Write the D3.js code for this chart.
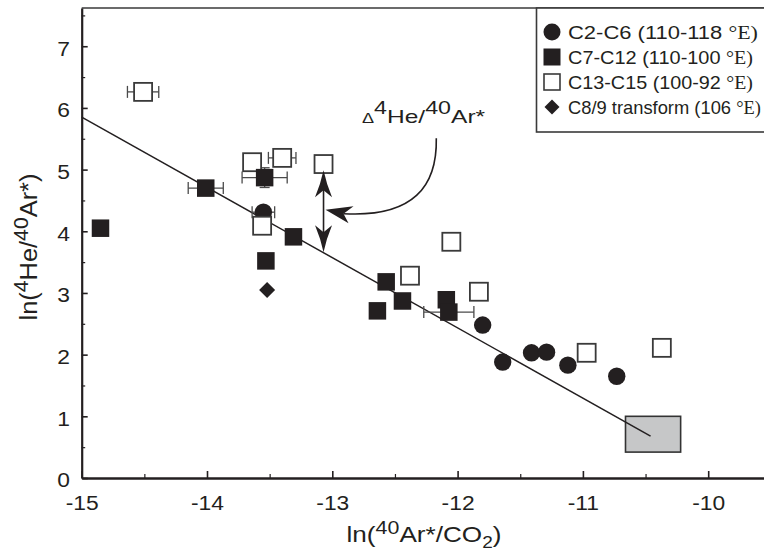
<!DOCTYPE html>
<html>
<head>
<meta charset="utf-8">
<script src="https://cdn.jsdelivr.net/npm/d3@7"></script>
<style>
  body { margin: 0; background: #fff; }
  svg { display: block; }
  text { font-family: "Liberation Sans", Arial, Helvetica, sans-serif; fill: #231f20; }
</style>
</head>
<body>
<svg id="chart" width="764" height="552"></svg>
<script>
// ---- data: ln(40Ar*/CO2) vs ln(4He/40Ar*) ----
// C2-C6 (110-118 °E) — filled circles
const c2c6X    = [-13.55, -11.80, -11.64, -11.41, -11.29, -11.12, -10.73];
const c2c6Y    = [4.31, 2.48, 1.88, 2.03, 2.04, 1.83, 1.65];
const c2c6XErr = [0.09, 0, 0, 0, 0, 0, 0];

// C7-C12 (110-100 °E) — filled squares
const c7c12X    = [-14.85, -14.01, -13.54, -13.31, -13.53, -12.57, -12.64, -12.44, -12.09, -12.07];
const c7c12Y    = [4.05, 4.70, 4.87, 3.91, 3.52, 3.18, 2.71, 2.87, 2.89, 2.69];
const c7c12XErr = [0, 0.14, 0.18, 0, 0, 0, 0, 0, 0, 0.20];
const c7c12YErr = [0, 0, 0.16, 0, 0, 0, 0, 0, 0, 0];

// C13-C15 (100-92 °E) — open squares
const c13c15X    = [-14.51, -13.64, -13.40, -13.56, -13.07, -12.38, -12.05, -11.83, -10.97, -10.37];
const c13c15Y    = [6.26, 5.12, 5.19, 4.09, 5.09, 3.28, 3.83, 3.02, 2.03, 2.11];
const c13c15XErr = [0.125, 0, 0.11, 0, 0, 0, 0, 0, 0, 0];

// C8/9 transform (106 °E) — diamond
const c89X = [-13.52];
const c89Y = [3.05];

// trend line and end-member field
const trendX = [-15, -10.46];
const trendY = [5.85, 0.68];
const fieldX = [-10.66, -10.22];
const fieldY = [0.42, 1.00];

// Δ annotation: double arrow between a sample and the trend line
const deltaArrowX = -13.07;
const deltaArrowY = [4.99, 3.66];

// axes
const xTicks = [-15, -14, -13, -12, -11, -10];
const xTickLabels = ["-15", "-14", "-13", "-12", "-11", "-10"];
const xMinor = [-14.5, -13.5, -12.5, -11.5, -10.5, -9.5];
const yTicks = [0, 1, 2, 3, 4, 5, 6, 7];
const yTickLabels = ["0", "1", "2", "3", "4", "5", "6", "7"];
const yMinor = [0.5, 1.5, 2.5, 3.5, 4.5, 5.5, 6.5, 7.5];

const legendItems = [
  { shape: "circle",  label: "C2-C6 (110-118 ",      width: 190 },
  { shape: "square",  label: "C7-C12 (110-100 ",     width: 185 },
  { shape: "open",    label: "C13-C15 (100-92 ",     width: 185 },
  { shape: "diamond", label: "C8/9 transform (106 ", width: 193 }
];

// ---- drawing ----
const INK = "#231f20";
const svg = d3.select("#chart");

const x = d3.scaleLinear().domain([-15, -9.5]).range([81.7, 81.7 + 125.3 * 5.5]);
const y = d3.scaleLinear().domain([0, 7.62]).range([478, 8]);

// rich text helper: parts = [{t, size, shift, family}]
function richText(parent, px, py, anchor, parts, opts = {}) {
  const g = parent.append("g").attr("transform", `translate(${px},${py})` + (opts.rotate ? ` rotate(${opts.rotate})` : ""));
  const t = g.append("text").attr("text-anchor", anchor);
  let off = 0;
  parts.forEach(p => {
    const s = p.shift || 0;
    const ts = t.append("tspan").attr("dy", s - off).attr("font-size", p.size).text(p.t);
    if (p.family) ts.style("font-family", p.family);
    off = s;
  });
  let sx = opts.sx || 1;
  if (opts.width) sx = opts.width / t.node().getBBox().width;
  t.attr("transform", `scale(${sx},1)`);
  return g;
}

// diamond path with half-diagonal h
const diamondPath = h => `M0,${-h} L${h},0 L0,${h} L${-h},0 Z`;

// frame top edge
svg.append("line")
  .attr("x1", x(-15)).attr("x2", 770).attr("y1", y(7.62)).attr("y2", y(7.62))
  .attr("stroke", "#3a3a3a").attr("stroke-width", 1.5);

// axes
const xAxis = d3.axisBottom(x).tickValues(xTicks).tickSizeInner(-7).tickSizeOuter(0)
  .tickPadding(0).tickFormat((d, i) => xTickLabels[i]);
const gx = svg.append("g").attr("transform", `translate(0,${y(0)})`).call(xAxis);
gx.select(".domain").attr("stroke", INK).attr("stroke-width", 2.6);
gx.selectAll(".tick line").attr("stroke", INK).attr("stroke-width", 1.6);
gx.selectAll(".tick text").attr("font-size", 19.5).attr("y", 18.5).attr("dy", "0.71em")
  .attr("transform", "scale(1.17,1)").style("font-family", "'Liberation Sans', Arial, sans-serif").attr("fill", INK);

const gxm = svg.append("g").attr("transform", `translate(0,${y(0)})`)
  .call(d3.axisBottom(x).tickValues(xMinor).tickSizeInner(-4).tickSizeOuter(0).tickFormat(""));
gxm.select(".domain").remove();
gxm.selectAll(".tick line").attr("stroke", INK).attr("stroke-width", 1.2);

const yAxis = d3.axisLeft(y).tickValues(yTicks).tickSizeInner(-6).tickSizeOuter(0)
  .tickPadding(10).tickFormat((d, i) => yTickLabels[i]);
const gy = svg.append("g").attr("transform", `translate(${x(-15)},0)`).call(yAxis);
gy.select(".domain").attr("stroke", INK).attr("stroke-width", 2.2);
gy.selectAll(".tick line").attr("stroke", INK).attr("stroke-width", 1.6);
gy.selectAll(".tick text").attr("font-size", 19.5).attr("dy", "0.45em")
  .attr("transform", "scale(1.17,1)").style("font-family", "'Liberation Sans', Arial, sans-serif").attr("fill", INK);

const gym = svg.append("g").attr("transform", `translate(${x(-15)},0)`)
  .call(d3.axisLeft(y).tickValues(yMinor).tickSizeInner(-3.5).tickSizeOuter(0).tickFormat(""));
gym.select(".domain").remove();
gym.selectAll(".tick line").attr("stroke", INK).attr("stroke-width", 1.2);

// axis titles
richText(svg, 424, 542, "middle", [
  { t: "ln(", size: 22 }, { t: "40", size: 18, shift: -8 }, { t: "Ar*/CO", size: 22 },
  { t: "2", size: 16, shift: 6 }, { t: ")", size: 22 }
], { width: 155 });

richText(svg, 37, 247, "middle", [
  { t: "ln(", size: 24 }, { t: "4", size: 20, shift: -9 }, { t: "He/", size: 24 },
  { t: "40", size: 20, shift: -9 }, { t: "Ar*)", size: 24 }
], { rotate: -90, width: 147 });

// end-member field
svg.append("rect")
  .attr("x", x(fieldX[0])).attr("y", y(fieldY[1]))
  .attr("width", x(fieldX[1]) - x(fieldX[0])).attr("height", y(fieldY[0]) - y(fieldY[1]))
  .attr("fill", "#c6c7c8").attr("stroke", "#333").attr("stroke-width", 1.6);

// trend line
svg.append("line")
  .attr("x1", x(trendX[0])).attr("y1", y(trendY[0]))
  .attr("x2", x(trendX[1])).attr("y2", y(trendY[1]))
  .attr("stroke", INK).attr("stroke-width", 1.5);

// error bars
function errorBars(xs, ys, xe, ye) {
  const g = svg.append("g").attr("stroke", "#4a4a4a").attr("stroke-width", 1.3).attr("fill", "none");
  xs.forEach((xv, i) => {
    const cx = x(xv), cy = y(ys[i]);
    if (xe && xe[i] > 0) {
      const a = x(xv - xe[i]), b = x(xv + xe[i]);
      g.append("line").attr("x1", a).attr("x2", b).attr("y1", cy).attr("y2", cy);
      g.append("line").attr("x1", a).attr("x2", a).attr("y1", cy - 6).attr("y2", cy + 6);
      g.append("line").attr("x1", b).attr("x2", b).attr("y1", cy - 6).attr("y2", cy + 6);
    }
    if (ye && ye[i] > 0) {
      const a = y(ys[i] - ye[i]), b = y(ys[i] + ye[i]);
      g.append("line").attr("x1", cx).attr("x2", cx).attr("y1", a).attr("y2", b);
      g.append("line").attr("x1", cx - 5).attr("x2", cx + 5).attr("y1", a).attr("y2", a);
      g.append("line").attr("x1", cx - 5).attr("x2", cx + 5).attr("y1", b).attr("y2", b);
    }
  });
}
errorBars(c13c15X, c13c15Y, c13c15XErr, null);
errorBars(c7c12X, c7c12Y, c7c12XErr, c7c12YErr);
errorBars(c2c6X, c2c6Y, c2c6XErr, null);

// markers
const CIRCLE_R = 8.7, SQ = 17.5, OPEN = 18;
svg.append("g").selectAll("circle").data(d3.range(c2c6X.length)).join("circle")
  .attr("cx", i => x(c2c6X[i])).attr("cy", i => y(c2c6Y[i])).attr("r", CIRCLE_R).attr("fill", INK);

svg.append("g").selectAll("rect").data(d3.range(c13c15X.length)).join("rect")
  .attr("x", i => x(c13c15X[i]) - OPEN / 2).attr("y", i => y(c13c15Y[i]) - OPEN / 2)
  .attr("width", OPEN).attr("height", OPEN)
  .attr("fill", "#fff").attr("stroke", "#3a3a3a").attr("stroke-width", 1.8);

svg.append("g").selectAll("rect").data(d3.range(c7c12X.length)).join("rect")
  .attr("x", i => x(c7c12X[i]) - SQ / 2).attr("y", i => y(c7c12Y[i]) - SQ / 2)
  .attr("width", SQ).attr("height", SQ).attr("fill", INK);

svg.append("g").selectAll("path").data(d3.range(c89X.length)).join("path")
  .attr("d", diamondPath(8))
  .attr("transform", i => `translate(${x(c89X[i])},${y(c89Y[i])})`).attr("fill", INK);

// double arrow for Δ
const ax = x(deltaArrowX), ayTop = y(deltaArrowY[0]), ayBot = y(deltaArrowY[1]);
svg.append("line").attr("x1", ax).attr("x2", ax).attr("y1", ayTop + 10).attr("y2", ayBot - 10)
  .attr("stroke", INK).attr("stroke-width", 1.6);
const headUp = "M0,0 Q-3,14 -8.5,27 L0,20 L8.5,27 Q3,14 0,0 Z";
svg.append("path").attr("d", headUp).attr("transform", `translate(${ax},${ayTop})`).attr("fill", INK);
svg.append("path").attr("d", headUp).attr("transform", `translate(${ax},${ayBot}) scale(1,-1)`).attr("fill", INK);

// curved pointer from the label to the double arrow
const curveStart = [x(-12.17), y(5.51)];
const curveTip = [ax + 2, y(4.35)];
svg.append("path")
  .attr("d", `M${curveStart[0]},${curveStart[1]} C${curveStart[0] + 1},${curveStart[1] + 48} ${curveTip[0] + 88},${curveTip[1] + 8} ${curveTip[0] + 18},${curveTip[1] + 4}`)
  .attr("fill", "none").attr("stroke", INK).attr("stroke-width", 1.6);
svg.append("path")
  .attr("d", "M0,0 L28,-3.5 L18,4 L23,13.5 Z")
  .attr("transform", `translate(${curveTip[0]},${curveTip[1]})`).attr("fill", INK);

// Δ label
richText(svg, 362, 123, "start", [
  { t: "Δ", size: 14 }, { t: "4", size: 18, shift: -9 }, { t: "He/", size: 19 },
  { t: "40", size: 18, shift: -9 }, { t: "Ar*", size: 19 }
], { width: 124 });

// legend
const lg = svg.append("g");
lg.append("rect").attr("x", 536.5).attr("y", 8).attr("width", 240).attr("height", 124)
  .attr("fill", "#fff").attr("stroke", "#3a3a3a").attr("stroke-width", 1.6);
legendItems.forEach((it, i) => {
  const cy = 32 + i * 25, cx = 552;
  if (it.shape === "circle") lg.append("circle").attr("cx", cx).attr("cy", cy).attr("r", 8.5).attr("fill", INK);
  if (it.shape === "square") lg.append("rect").attr("x", cx - 8.5).attr("y", cy - 8.5).attr("width", 17).attr("height", 17).attr("fill", INK);
  if (it.shape === "open") lg.append("rect").attr("x", cx - 8).attr("y", cy - 8).attr("width", 16).attr("height", 16)
    .attr("fill", "#fff").attr("stroke", "#3a3a3a").attr("stroke-width", 1.6);
  if (it.shape === "diamond") lg.append("path").attr("d", diamondPath(7.5))
    .attr("transform", `translate(${cx},${cy})`).attr("fill", INK);
  richText(lg, 568, cy + 6.5, "start", [
    { t: it.label, size: 18 }, { t: "°E)", size: 18, family: "'Liberation Serif', 'Times New Roman', serif" }
  ], { width: it.width });
});
</script>
</body>
</html>
